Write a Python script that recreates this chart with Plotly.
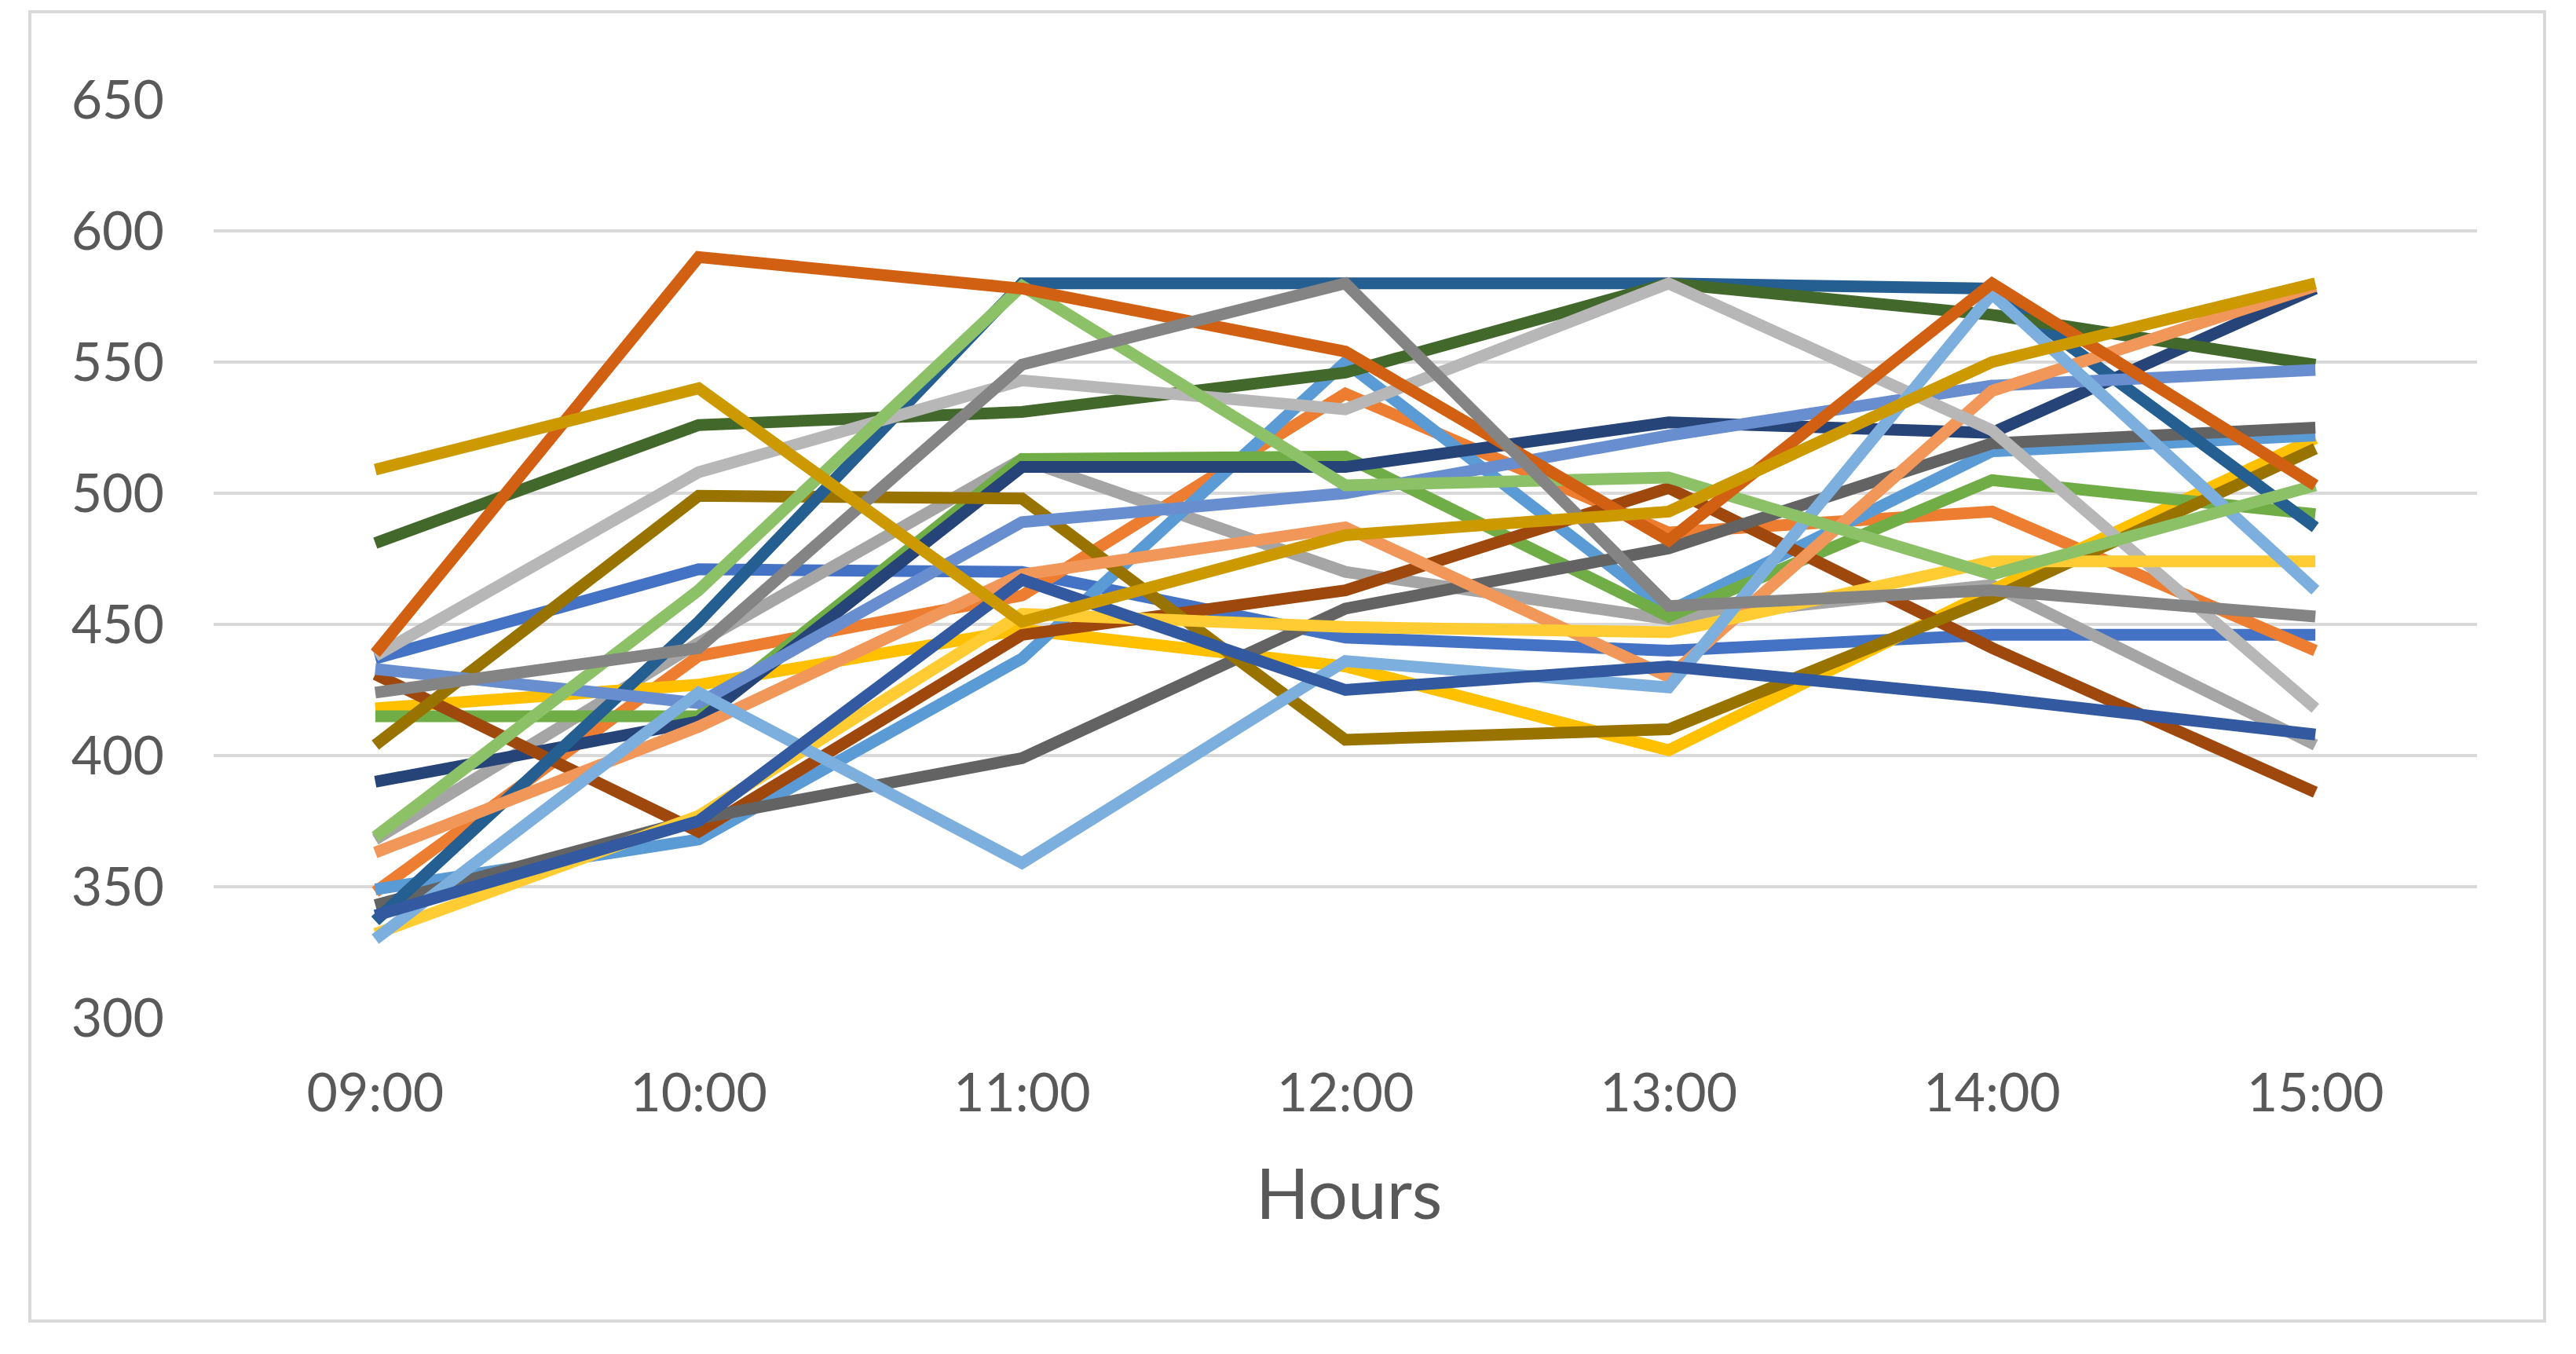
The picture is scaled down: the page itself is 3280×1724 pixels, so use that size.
import plotly.graph_objects as go

hours = ["09:00", "10:00", "11:00", "12:00", "13:00", "14:00", "15:00"]

s01 = [437, 471, 470, 445, 440, 446, 446]
s02 = [348, 438, 461, 538, 485, 493, 440]
s03 = [368, 443, 513, 470, 452, 465, 404]
s04 = [418, 427, 448, 434, 402, 463, 521]
s05 = [349, 368, 437, 550, 455, 516, 522]
s06 = [415, 415, 513, 514, 453, 505, 492]
s07 = [390, 413, 510, 510, 527, 523, 578]
s08 = [431, 371, 446, 463, 502, 441, 386]
s09 = [343, 376, 399, 456, 479, 519, 525]
s10 = [404, 499, 498, 406, 410, 460, 517]
s11 = [337, 451, 580, 580, 580, 578, 487]
s12 = [481, 526, 531, 546, 580, 568, 549]
s13 = [433, 420, 489, 500, 522, 541, 547]
s14 = [363, 411, 469, 487, 430, 539, 579]
s15 = [438, 508, 543, 532, 580, 524, 418]
s16 = [332, 377, 454, 449, 447, 474, 474]
s17 = [330, 424, 359, 436, 426, 576, 463]
s18 = [369, 463, 579, 503, 506, 469, 503]
s19 = [339, 375, 467, 425, 434, 422, 408]
s20 = [439, 590, 578, 554, 482, 580, 503]
s21 = [424, 441, 549, 580, 457, 463, 453]
s22 = [509, 540, 451, 484, 493, 550, 580]

series = [s01, s02, s03, s04, s05, s06, s07, s08, s09, s10, s11,
          s12, s13, s14, s15, s16, s17, s18, s19, s20, s21, s22]
colors = ["#4472C4", "#ED7D31", "#A5A5A5", "#FFC000", "#5B9BD5", "#70AD47",
          "#264478", "#9E480E", "#636363", "#997300", "#255E91", "#43682B",
          "#698ED0", "#F1975A", "#B7B7B7", "#FFCD33", "#7CAFDD", "#8CC168",
          "#335AA1", "#D26012", "#848484", "#CC9A00"]

# page has an 8px body margin, so figure coords = page coords - 8
W, H = 3264, 1708
L, R, T, B = 264, 3146, 119, 1288
pw, ph = R - L, B - T

fig = go.Figure()
for i, (vals, c) in enumerate(zip(series, colors)):
    fig.add_trace(go.Scatter(x=hours, y=vals, mode="lines", name=f"Series{i+1}",
                             line=dict(color=c, width=15), showlegend=False))

font = "Lato, 'Open Sans', sans-serif"
fig.update_layout(
    width=W, height=H,
    margin=dict(l=L, r=W - R, t=T, b=H - B, pad=0),
    paper_bgcolor="white", plot_bgcolor="white",
    xaxis=dict(type="category", range=[-0.5, 6.5], showgrid=False, zeroline=False,
               showline=False, ticks="", tickfont=dict(family=font, size=68, color="#595959"),
               ticklabelstandoff=50),
    yaxis=dict(range=[300, 650], dtick=50, showgrid=True, gridcolor="#D9D9D9", gridwidth=4,
               zeroline=False, showline=False, ticks="",
               tickfont=dict(family=font, size=68, color="#595959"),
               ticklabelstandoff=62),
    shapes=[dict(type="rect", xref="paper", yref="paper",
                 x0=(30 - L) / pw, x1=(3232 - L) / pw,
                 y0=(B - 1674) / ph, y1=(B - 7) / ph,
                 line=dict(color="#D9D9D9", width=4), fillcolor="rgba(0,0,0,0)", layer="below")],
    annotations=[dict(text="Hours", xref="paper", yref="paper",
                      x=(1709 - L) / pw, y=(B - 1509) / ph, xanchor="center", yanchor="middle",
                      showarrow=False, font=dict(family=font, size=89, color="#595959"))],
)

fig.write_html("out.html")
